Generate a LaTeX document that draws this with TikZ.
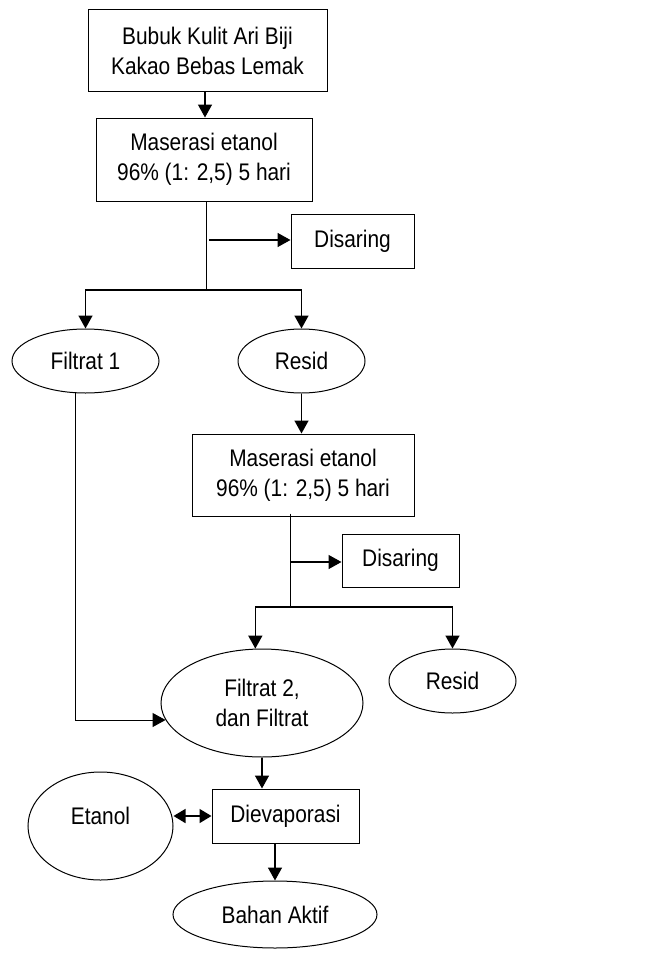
\documentclass[tikz,border=0pt]{standalone}
\usepackage{fontspec}
\setmainfont{Liberation Sans}[FakeStretch=0.87]
\usepackage{tikz}
\usetikzlibrary{arrows.meta,positioning,calc,shapes.geometric}

\begin{document}
\begin{tikzpicture}[x=1pt, y=-1pt,
  every node/.style={font=\fontsize{24}{30}\selectfont, align=center, inner sep=0pt},
  stepbox/.style={draw, line width=1pt},
  oval/.style={draw, ellipse, line width=1pt},
  arr/.style={-{Triangle[length=13pt,width=14pt]}, line width=1.5pt},
  dbl/.style={{Triangle[length=12pt,width=14pt]}-{Triangle[length=12pt,width=14pt]}, line width=1.5pt},
  plain/.style={line width=1pt}]
\useasboundingbox (0,0) rectangle (659,958);
% process boxes
\node[stepbox, minimum width=239pt, minimum height=81pt] (bubuk) at (207.5,50.5) {Bubuk Kulit Ari Biji\\Kakao Bebas Lemak};
\node[stepbox, minimum width=216pt, minimum height=83pt] (mas1) at (204,159.5) {Maserasi etanol\\96\% (1: 2,5) 5 hari};
\node[stepbox, minimum width=123pt, minimum height=54pt] (dis1) at (352.5,241) {Disaring};
\node[stepbox, minimum width=222pt, minimum height=82pt] (mas2) at (303,475) {Maserasi etanol\\96\% (1: 2,5) 5 hari};
\node[stepbox, minimum width=117pt, minimum height=53pt] (dis2) at (400.5,560.5) {Disaring};
\node[stepbox, minimum width=147pt, minimum height=54pt] (diev) at (285.5,816) {Dievaporasi};
% products
\node[oval, minimum width=147pt, minimum height=64pt] (fil1) at (85.5,361) {Filtrat 1};
\node[oval, minimum width=127pt, minimum height=64pt] (res1) at (301.5,361) {Resid};
\node[oval, minimum width=202pt, minimum height=108pt] (fil2) at (262,703) {Filtrat 2,\\dan Filtrat};
\node[oval, minimum width=127pt, minimum height=64pt] (res2) at (452.5,681) {Resid};
\node[oval, minimum width=145pt, minimum height=108pt] (eta) at (100.5,826) {\raisebox{20pt}{Etanol}};
\node[oval, minimum width=204pt, minimum height=67pt] (bah) at (275,914.5) {Bahan Aktif};
% split points
\coordinate (s1) at (206,290);
\coordinate (d1) at (209,240);
\coordinate (s2) at (290,607);
\coordinate (d2) at (290,562);
% connectors
\draw[arr] (bubuk.south -| 205,0) -- (mas1.north -| 205,0);
\draw[plain] (mas1.south -| s1) -- (s1);
\draw[arr] (d1) -- (dis1.west |- d1);
\draw[arr] (s1) -| (fil1.north);
\draw[arr] (s1) -| (res1.north);
\draw[arr] (res1.south) -- (mas2.north -| res1.south);
\draw[plain] ($(mas2.south -| s2)+(0,-3)$) -- (s2);
\draw[arr] (d2) -- (dis2.west |- d2);
\draw[arr] (s2) -| (fil2.97);
\draw[arr] (s2) -| (res2.north);
\draw[arr, line width=1pt] (fil1.252) |- (fil2.190);
\draw[arr] (fil2.south) -- (diev.north -| fil2.south);
\draw[dbl] (eta.east |- diev.west) -- (diev.west);
\draw[arr] (diev.south -| bah.north) -- (bah.north);
\end{tikzpicture}
\end{document}
